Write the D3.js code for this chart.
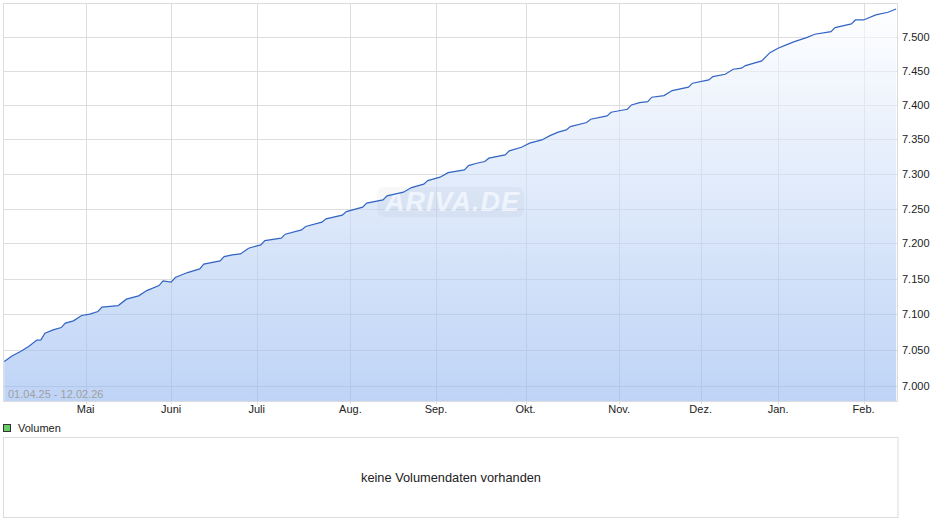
<!DOCTYPE html>
<html>
<head>
  <title>Kursverlauf</title>
<style>
  body {
    margin: 0;
    background-color: #fff;
    font-family: Arial, "Liberation Sans", sans-serif;
  }
  #chart {
    position: relative;
  }
  .grid line {
    stroke: #dddddd;
    shape-rendering: crispEdges;
  }
  .tick-label {
    font-size: 11px;
    fill: #222;
  }
</style>
</head>
<body>
  <div id="chart"></div>

  <script src="https://d3js.org/d3.v7.min.js"></script>
  <script>
    const width = 940;
    const height = 526;

    // readings taken off the chart (trading days with visible kinks)
    const dates = [
      "2025-04-01", "2025-04-03", "2025-04-07", "2025-04-09", "2025-04-11", "2025-04-14", "2025-04-15", "2025-04-17",
      "2025-04-23", "2025-04-24", "2025-04-28", "2025-04-30", "2025-05-05", "2025-05-07", "2025-05-08", "2025-05-14",
      "2025-05-16", "2025-05-21", "2025-05-23", "2025-05-28", "2025-05-29", "2025-06-02", "2025-06-03", "2025-06-06",
      "2025-06-11", "2025-06-12", "2025-06-18", "2025-06-19", "2025-06-23", "2025-06-25", "2025-06-27", "2025-07-02",
      "2025-07-03", "2025-07-09", "2025-07-10", "2025-07-16", "2025-07-17", "2025-07-23", "2025-07-24", "2025-07-30",
      "2025-07-31", "2025-08-06", "2025-08-07", "2025-08-13", "2025-08-14", "2025-08-20", "2025-08-22", "2025-08-27",
      "2025-08-28", "2025-09-02", "2025-09-04", "2025-09-10", "2025-09-11", "2025-09-15", "2025-09-17", "2025-09-18",
      "2025-09-24", "2025-09-25", "2025-09-30", "2025-10-02", "2025-10-07", "2025-10-09", "2025-10-13", "2025-10-15",
      "2025-10-16", "2025-10-22", "2025-10-23", "2025-10-29", "2025-10-30", "2025-11-05", "2025-11-06", "2025-11-10",
      "2025-11-12", "2025-11-13", "2025-11-18", "2025-11-20", "2025-11-26", "2025-11-27", "2025-12-03", "2025-12-04",
      "2025-12-09", "2025-12-11", "2025-12-15", "2025-12-16", "2025-12-22", "2025-12-29", "2026-01-02", "2026-01-06",
      "2026-01-08", "2026-01-13", "2026-01-15", "2026-01-21", "2026-01-22", "2026-01-28", "2026-01-29", "2026-02-02",
      "2026-02-05", "2026-02-10", "2026-02-12"
    ];
    const values = [
      7033.7, 7041.7, 7047.7, 7054.6, 7063.6, 7064.0, 7073.4, 7078.0,
      7081.2, 7087.4, 7090.6, 7098.1, 7100.0, 7103.7, 7109.9, 7112.1,
      7121.1, 7125.8, 7133.2, 7140.3, 7147.0, 7145.1, 7151.6, 7158.7,
      7163.9, 7170.6, 7175.3, 7181.4, 7183.8, 7185.2, 7193.3, 7198.0,
      7204.2, 7207.6, 7213.3, 7219.4, 7224.2, 7230.4, 7235.2, 7240.5,
      7245.6, 7251.9, 7257.7, 7262.4, 7268.2, 7273.5, 7280.1, 7285.0,
      7290.2, 7295.1, 7301.7, 7305.6, 7311.9, 7315.3, 7317.7, 7322.6,
      7327.4, 7333.2, 7338.5, 7344.4, 7349.1, 7355.4, 7360.4, 7363.7,
      7368.5, 7374.4, 7379.3, 7384.1, 7389.5, 7393.9, 7400.2, 7403.6,
      7405.1, 7411.5, 7413.9, 7421.2, 7426.2, 7432.1, 7436.9, 7441.8,
      7445.3, 7452.7, 7454.2, 7458.0, 7464.9, 7477.2, 7483.7, 7488.6,
      7493.5, 7499.4, 7504.5, 7508.3, 7514.3, 7519.8, 7525.7, 7525.7,
      7533.2, 7537.2, 7542.1
    ];

    const yTicks = [7000, 7050, 7100, 7150, 7200, 7250, 7300, 7350, 7400, 7450, 7500];
    const monthLabels = ["Mai", "Juni", "Juli", "Aug.", "Sep.", "Okt.", "Nov.", "Dez.", "Jan.", "Feb."];
    const holidays = ["2025-04-18", "2025-04-21", "2025-05-01", "2025-12-24", "2025-12-25", "2025-12-26", "2025-12-31", "2026-01-01"];
    const rangeLabel = "01.04.25 - 12.02.26";

    const fmtDay = d3.timeFormat("%Y-%m-%d");
    const parseDay = d3.timeParse("%Y-%m-%d");

    // trading calendar, the chart is spaced per trading day
    const tradingDays = d3.timeDay.range(parseDay("2025-04-01"), parseDay("2026-02-13"))
      .filter(d => d.getDay() !== 0 && d.getDay() !== 6 && !holidays.includes(fmtDay(d)));
    const dayIndex = new Map(tradingDays.map((d, i) => [fmtDay(d), i]));

    const data = dates.map((d, i) => ({ i: dayIndex.get(d), v: values[i] }));

    // first trading day of each month after April
    const monthStarts = [];
    tradingDays.forEach((d, i) => {
      if (i > 0 && d.getMonth() !== tradingDays[i - 1].getMonth()) monthStarts.push(i);
    });

    const plot = { left: 3, top: 3, right: 897, bottom: 401 };

    const x = d3.scaleLinear()
      .domain([-0.3, tradingDays.length - 0.8])
      .range([plot.left, plot.right]);

    const y = d3.scaleLog()
      .domain([6979, 7551])
      .range([plot.bottom, plot.top]);

    const de = d3.formatLocale({ decimal: ",", thousands: ".", grouping: [3], currency: ["", " €"] });
    const yFormat = de.format(",.0f");

    const svg = d3.select("#chart")
      .append("svg")
      .attr("width", width)
      .attr("height", height);

    const defs = svg.append("defs");
    const grad = defs.append("linearGradient")
      .attr("id", "areaFill")
      .attr("gradientUnits", "userSpaceOnUse")
      .attr("x1", 0).attr("x2", 0)
      .attr("y1", plot.top).attr("y2", plot.bottom);
    grad.append("stop").attr("offset", "0%").attr("stop-color", "#ffffff");
    grad.append("stop").attr("offset", "100%").attr("stop-color", "#93b7f0");

    const area = d3.area()
      .x(d => x(d.i))
      .y0(plot.bottom)
      .y1(d => y(d.v));

    const line = d3.line()
      .x(d => x(d.i))
      .y(d => y(d.v));

    // grid (under the translucent area)
    const grid = svg.append("g").attr("class", "grid");
    grid.selectAll(".h")
      .data(yTicks)
      .enter()
      .append("line")
      .attr("x1", plot.left)
      .attr("x2", plot.right)
      .attr("y1", d => Math.round(y(d)) + 0.5)
      .attr("y2", d => Math.round(y(d)) + 0.5);
    grid.selectAll(".v")
      .data(monthStarts)
      .enter()
      .append("line")
      .attr("x1", d => Math.round(x(d)) + 0.5)
      .attr("x2", d => Math.round(x(d)) + 0.5)
      .attr("y1", plot.top)
      .attr("y2", plot.bottom + 3);

    svg.append("path")
      .datum(data)
      .attr("fill", "url(#areaFill)")
      .attr("fill-opacity", 0.6)
      .attr("d", area);

    // watermark
    const wm = svg.append("g").attr("opacity", 0.5);
    wm.append("rect")
      .attr("x", 377).attr("y", 187)
      .attr("width", 147).attr("height", 30)
      .attr("rx", 7)
      .attr("fill", "#000")
      .attr("fill-opacity", 0.05);
    wm.append("text")
      .attr("x", 452).attr("y", 211)
      .attr("text-anchor", "middle")
      .attr("font-size", 27)
      .attr("font-weight", "bold")
      .attr("font-style", "italic")
      .attr("fill", "#fff")
      .attr("textLength", 134)
      .text("ARIVA.DE");

    svg.append("path")
      .datum(data)
      .attr("fill", "none")
      .attr("stroke", "#3264c4")
      .attr("stroke-width", 1.2)
      .attr("d", line);

    // frame
    svg.append("rect")
      .attr("x", plot.left + 0.5)
      .attr("y", plot.top + 0.5)
      .attr("width", plot.right - plot.left)
      .attr("height", plot.bottom - plot.top)
      .attr("fill", "none")
      .attr("stroke", "#dcdcdc");

    svg.append("text")
      .attr("x", 8)
      .attr("y", 398)
      .attr("font-size", 11)
      .attr("fill", "#a0a0a0")
      .text(rangeLabel);

    // y labels
    svg.selectAll(".ylab")
      .data(yTicks)
      .enter()
      .append("text")
      .attr("class", "tick-label")
      .attr("x", 902)
      .attr("y", d => y(d) + 4)
      .text(d => yFormat(d));

    // x labels
    svg.selectAll(".xlab")
      .data(monthStarts)
      .enter()
      .append("text")
      .attr("class", "tick-label")
      .attr("x", d => x(d))
      .attr("y", 413)
      .attr("text-anchor", "middle")
      .text((d, i) => monthLabels[i]);

    // volume panel
    svg.append("rect")
      .attr("x", 3.5).attr("y", 424.5)
      .attr("width", 7).attr("height", 7)
      .attr("fill", "#66cc66")
      .attr("stroke", "#333");
    svg.append("text")
      .attr("x", 18).attr("y", 432)
      .attr("font-size", 11)
      .attr("fill", "#222")
      .text("Volumen");

    svg.append("rect")
      .attr("x", 3.5).attr("y", 437.5)
      .attr("width", 894.5).attr("height", 80)
      .attr("fill", "none")
      .attr("stroke", "#dcdcdc");
    svg.append("text")
      .attr("x", 451).attr("y", 482)
      .attr("text-anchor", "middle")
      .attr("font-size", 12.8)
      .attr("fill", "#222")
      .text("keine Volumendaten vorhanden");
  </script>
</body>
</html>
